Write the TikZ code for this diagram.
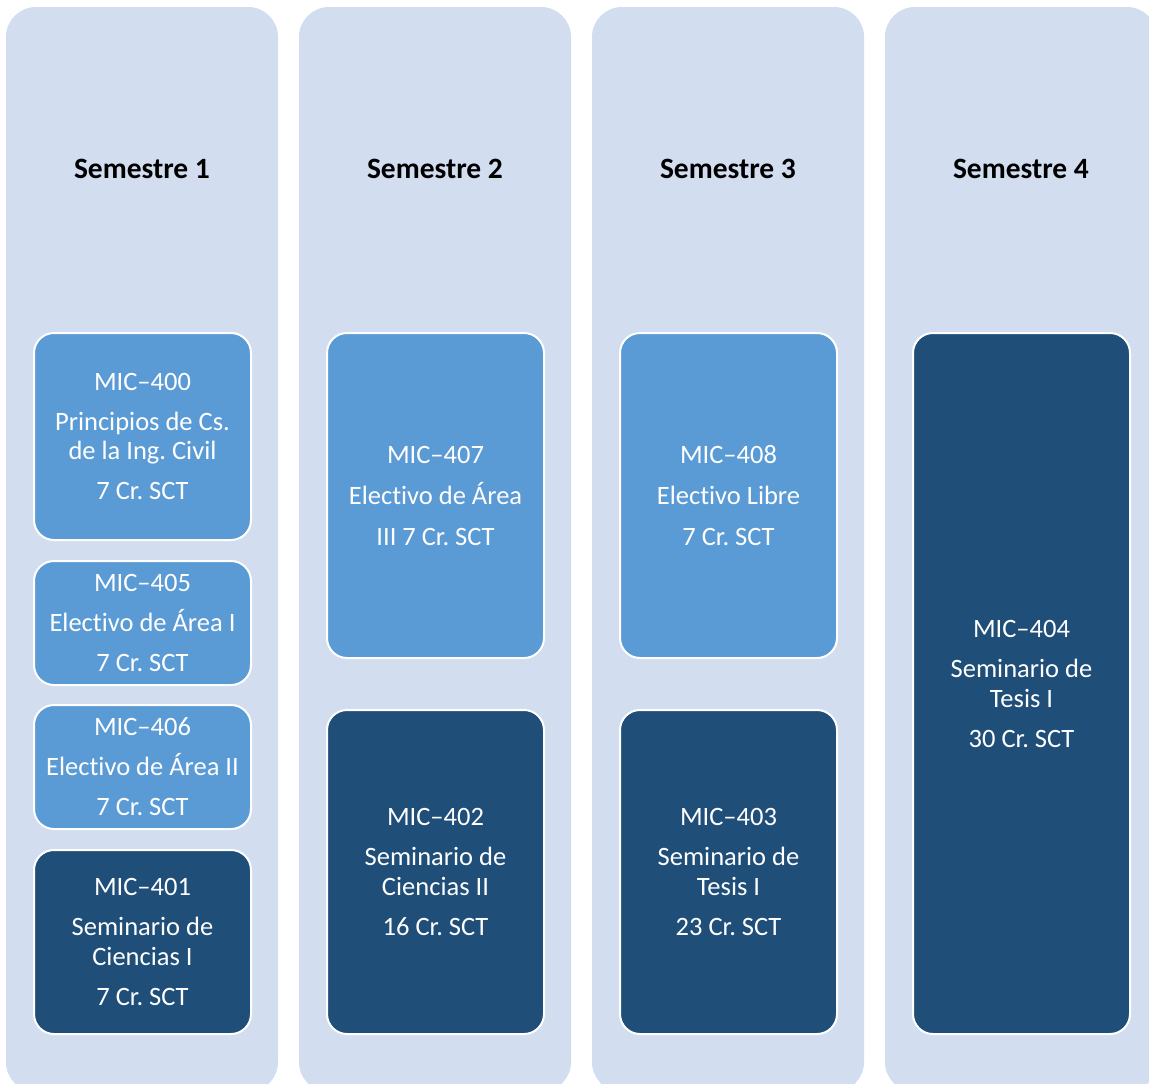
\documentclass[tikz,border=0pt]{standalone}
\usepackage{fontspec}
\setmainfont{Carlito}[RawFeature={-liga;-dlig}]
\frenchspacing
\definecolor{colbg}{HTML}{D2DEEF}
\definecolor{lightbox}{HTML}{5B9BD5}
\definecolor{darkbox}{HTML}{1F4E79}
\tikzset{
  column/.style={fill=colbg, rounded corners=30pt, minimum width=272pt, minimum height=1085pt, inner sep=0pt},
  header/.style={font=\fontsize{29.5}{34}\selectfont\bfseries, text=black, inner sep=0pt},
  course/.style={draw=white, line width=2pt, rounded corners=20pt, inner sep=0pt, minimum width=217pt,
    text=white, align=center, font=\fontsize{26.5}{30}\selectfont},
  lightc/.style={course, fill=lightbox},
  darkc/.style={course, fill=darkbox},
}
\begin{document}
\begin{tikzpicture}[x=1pt,y=-1pt]
\path[use as bounding box, clip] (0,0) rectangle (1149,1084);
\fill[white] (0,0) rectangle (1149,1084);
% columns
\node[column] (c1) at (142,549.5) {};
\node[column] (c2) at (435,549.5) {};
\node[column] (c3) at (728,549.5) {};
\node[column] (c4) at (1021,549.5) {};
% headers
\node[header] (h1) at (142,169) {Semestre 1};
\node[header] (h2) at (435,169) {Semestre 2};
\node[header] (h3) at (728,169) {Semestre 3};
\node[header] (h4) at (1021,169) {Semestre 4};
% semester 1
\node[lightc, minimum height=207pt] (m400) at (142.5,436.5) {MIC–400\\[10pt]Principios de Cs.\\de la Ing. Civil\\[10pt]7 Cr. SCT};
\node[lightc, minimum height=124pt] (m405) at (142.5,623) {MIC–405\\[10pt]Electivo de Área I\\[10pt]7 Cr. SCT};
\node[lightc, minimum height=124pt] (m406) at (142.5,767) {MIC–406\\[10pt]Electivo de Área II\\[10pt]7 Cr. SCT};
\node[darkc, minimum height=184pt] (m401) at (142.5,942) {MIC–401\\[10pt]Seminario de\\Ciencias I\\[10pt]7 Cr. SCT};
% semester 2
\node[lightc, minimum height=325pt] (m407) at (435.5,495.5) {MIC–407\\[11pt]Electivo de Área\\[11pt]III 7 Cr. SCT};
\node[darkc, minimum height=324pt] (m402) at (435.5,872) {MIC–402\\[10pt]Seminario de\\Ciencias II\\[10pt]16 Cr. SCT};
% semester 3
\node[lightc, minimum height=325pt] (m408) at (728.5,495.5) {MIC–408\\[11pt]Electivo Libre\\[11pt]7 Cr. SCT};
\node[darkc, minimum height=324pt] (m403) at (728.5,872) {MIC–403\\[10pt]Seminario de\\Tesis I\\[10pt]23 Cr. SCT};
% semester 4
\node[darkc, minimum height=701pt] (m404) at (1021.5,683.5) {MIC–404\\[10pt]Seminario de\\Tesis I\\[10pt]30 Cr. SCT};
\end{tikzpicture}
\end{document}
